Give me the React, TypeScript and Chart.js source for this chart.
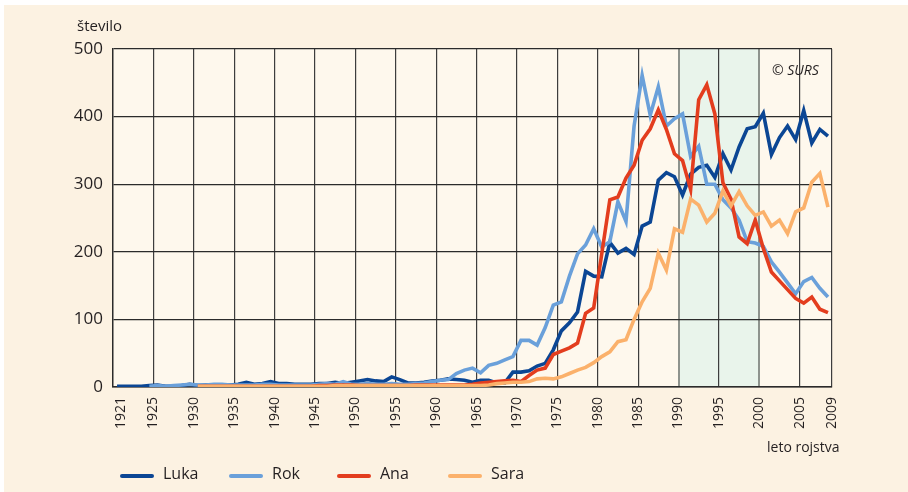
import React, { useEffect, useRef } from "react";
import { Chart, registerables } from "chart.js";

Chart.register(...registerables);

// ---------- data ----------
const firstYear = 1921;
const lastYear = 2009;
const years: number[] = [];
for (let y = firstYear; y <= lastYear; y++) years.push(y);

const xTickYears = [1921, 1925, 1930, 1935, 1940, 1945, 1950, 1955, 1960, 1965, 1970, 1975, 1980, 1985, 1990, 1995, 2000, 2005, 2009];
const yTickValues = [0, 100, 200, 300, 400, 500];

const luka = [
  1, 1, 1, 1, 2, 3, 1, 1, 2, 4,
  2, 3, 3, 2, 3, 4, 7, 4, 5, 8,
  5, 5, 4, 4, 4, 5, 5, 7, 5, 7,
  9, 11, 9, 8, 15, 11, 6, 6, 7, 9,
  10, 12, 11, 10, 7, 10, 10, 6, 6, 22,
  22, 24, 31, 35, 55, 83, 95, 111, 171, 164,
  163, 214, 198, 205, 196, 238, 244, 306, 317, 311,
  284, 315, 325, 328, 310, 345, 321, 355, 382, 385,
  405, 344, 369, 386, 366, 409, 361, 381, 371,
];
const rok = [
  null, null, null, null, 1, 2, 1, 2, 3, 4,
  3, 3, 4, 4, 3, 3, 3, 3, 4, 4,
  3, 3, 3, 3, 3, 4, 5, 4, 8, 4,
  4, 5, 4, 4, 5, 4, 4, 5, 6, 8,
  10, 11, 20, 25, 28, 21, 32, 35, 40, 45,
  69, 69, 62, 88, 121, 126, 164, 197, 210, 234,
  207, 215, 274, 245, 386, 461, 402, 444, 386, 397,
  404, 341, 356, 300, 300, 277, 265, 247, 215, 213,
  208, 185, 170, 154, 138, 156, 162, 146, 133,
];
const ana = [
  null, null, null, null, null, null, null, null, null, null,
  1, 1, 1, 1, 1, 1, 1, 1, 1, 1,
  1, 1, 1, 1, 1, 2, 2, 3, 3, 3,
  2, 2, 2, 2, 2, 2, 2, 3, 3, 3,
  3, 3, 3, 3, 4, 6, 7, 8, 9, 10,
  8, 17, 25, 28, 48, 53, 58, 65, 109, 117,
  197, 277, 281, 309, 328, 365, 382, 410, 381, 345,
  335, 292, 425, 447, 404, 302, 278, 222, 212, 247,
  205, 170, 157, 144, 131, 124, 133, 115, 110,
];
const sara = [
  null, null, null, null, null, null, null, null, null, null,
  1, 1, 1, 1, 1, 1, 1, 1, 1, 1,
  1, 1, 1, 1, 1, 1, 1, 2, 2, 2,
  2, 2, 2, 2, 2, 2, 2, 2, 2, 2,
  2, 2, 2, 2, 2, 2, 3, 5, 6, 7,
  7, 8, 12, 13, 12, 15, 20, 25, 29, 36,
  45, 52, 67, 70, 100, 126, 146, 198, 173, 234,
  229, 278, 269, 244, 257, 290, 268, 289, 268, 254,
  259, 238, 247, 227, 259, 265, 303, 316, 266,
];

const seriesNames = ["Luka", "Rok", "Ana", "Sara"];
const seriesData = [luka, rok, ana, sara];
const seriesColors = ["#0b4694", "#6aa0da", "#e33d1e", "#fbb16b"];

const highlightRange = [1990, 2000];

const yAxisTitle = "število";
const xAxisTitle = "leto rojstva";
const sourceNote = "© SURS";

// ---------- styles ----------
const FONT = "'Open Sans', 'Noto Sans', sans-serif";
const TEXT = "#231f20";
const W = 908;
const H = 492;

function pointsOf(values: (number | null)[]) {
  // each year's value sits in the middle of its one-year interval; ticks mark the year ends
  return years.map((yr, i) => ({ x: yr - 0.5, y: values[i] }));
}

const decorPlugin = {
  id: "decor",
  beforeDraw(chart: any) {
    const { ctx, chartArea: a, scales } = chart;
    ctx.save();
    ctx.fillStyle = "#ffffff";
    ctx.fillRect(0, 0, W, H);
    ctx.fillStyle = "#fcf2e2";
    ctx.fillRect(4, 5, W - 4, H - 5);
    ctx.fillStyle = "#fef8ed";
    ctx.fillRect(a.left, a.top, a.right - a.left, a.bottom - a.top);
    const x0 = scales.x.getPixelForValue(highlightRange[0]);
    const x1 = scales.x.getPixelForValue(highlightRange[1]);
    ctx.fillStyle = "#e9f4eb";
    ctx.fillRect(x0, a.top, x1 - x0, a.bottom - a.top);
    ctx.restore();
  },
  afterDraw(chart: any) {
    const { ctx, chartArea: a } = chart;
    ctx.save();
    ctx.fillStyle = TEXT;
    ctx.textBaseline = "middle";
    ctx.textAlign = "left";
    ctx.font = `15px ${FONT}`;
    ctx.fillText(yAxisTitle, a.left - 36, 27);
    ctx.font = `14px ${FONT}`;
    ctx.fillText(xAxisTitle, a.right - 65, 448);
    ctx.font = `italic 14px ${FONT}`;
    ctx.fillText(sourceNote, a.right - 60, 71);

    // legend
    const starts = [120, 229, 337, 448];
    const ly = 476;
    ctx.lineCap = "round";
    ctx.lineWidth = 4;
    ctx.font = `16px ${FONT}`;
    seriesNames.forEach((name, i) => {
      const sx = starts[i];
      ctx.strokeStyle = seriesColors[i];
      ctx.beginPath();
      ctx.moveTo(sx + 2, ly);
      ctx.lineTo(sx + 32, ly);
      ctx.stroke();
      ctx.fillStyle = TEXT;
      ctx.fillText(name, sx + 43, ly - 2);
    });
    ctx.restore();
  },
};

export default function App() {
  const ref = useRef<HTMLCanvasElement | null>(null);

  useEffect(() => {
    const canvas = ref.current;
    if (!canvas) return;
    const chart = new Chart(canvas, {
      type: "line",
      data: {
        datasets: seriesNames.map((name, i) => ({
          label: name,
          data: pointsOf(seriesData[i]),
          borderColor: seriesColors[i],
          backgroundColor: seriesColors[i],
          borderWidth: 3.6,
          pointRadius: 0,
          tension: 0,
          spanGaps: false,
          borderJoinStyle: "miter" as const,
          order: seriesNames.length - i,
        })),
      },
      options: {
        animation: false,
        responsive: false,
        devicePixelRatio: 1,
        layout: { padding: { left: 0, top: 49, right: 76, bottom: 0 } },
        plugins: {
          legend: { display: false },
          tooltip: { enabled: false },
        },
        scales: {
          x: {
            type: "linear",
            min: 1920,
            max: 2009,
            afterBuildTicks: (scale: any) => {
              scale.ticks = xTickYears.map((v) => ({ value: v }));
            },
            afterFit: (scale: any) => {
              scale.height = 105;
            },
            ticks: {
              autoSkip: false,
              minRotation: 90,
              maxRotation: 90,
              padding: 10,
              color: TEXT,
              font: { family: FONT, size: 14 },
              callback: (v: any) => String(v),
            },
            grid: {
              drawTicks: false,
              color: (c: any) => {
                const v = c.tick && c.tick.value;
                if (v === firstYear) return "rgba(0,0,0,0)";
                if (v === highlightRange[0] || v === highlightRange[1]) return "#8e938d";
                return "#3d3d3d";
              },
              lineWidth: (c: any) => {
                const v = c.tick && c.tick.value;
                if (v === highlightRange[0] || v === highlightRange[1]) return 2;
                return 1.2;
              },
            },
            border: { display: true, color: "#2b2b2b", width: 1.5 },
          },
          y: {
            min: 0,
            max: 500,
            afterBuildTicks: (scale: any) => {
              scale.ticks = yTickValues.map((v) => ({ value: v }));
            },
            afterFit: (scale: any) => {
              scale.width = 113;
            },
            ticks: {
              padding: 10,
              color: TEXT,
              font: { family: FONT, size: 17 },
            },
            grid: {
              drawTicks: false,
              color: "#2b2b2b",
              lineWidth: 1.2,
            },
            border: { display: true, color: "#2b2b2b", width: 1.5 },
          },
        },
      },
      plugins: [decorPlugin],
    });
    return () => chart.destroy();
  }, []);

  return (
    <div style={{ position: "fixed", left: 0, top: 0, width: W, height: H, background: "#fff" }}>
      <canvas ref={ref} width={W} height={H} style={{ display: "block", width: W, height: H }} />
    </div>
  );
}
